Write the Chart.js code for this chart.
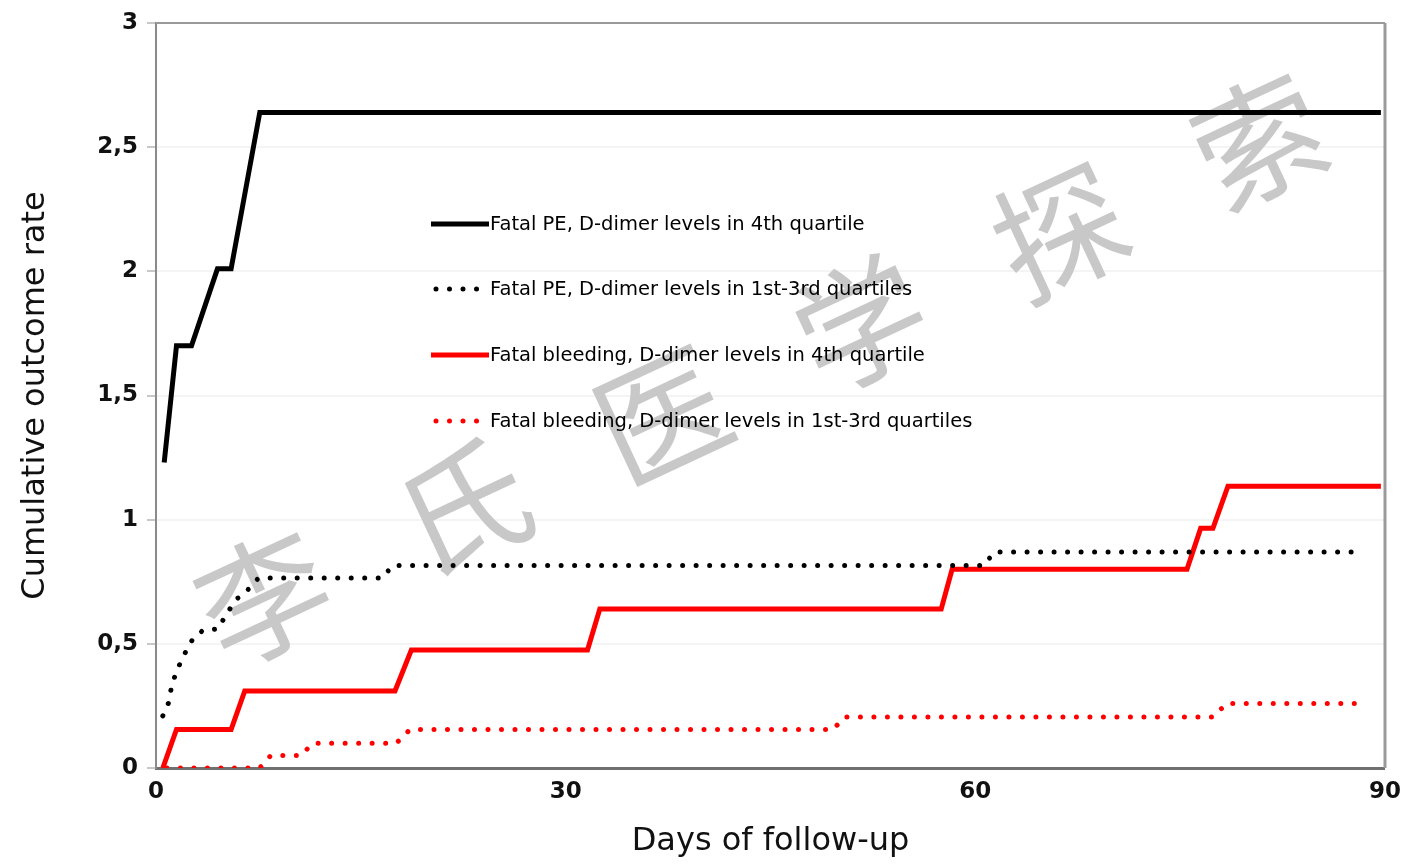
<!DOCTYPE html>
<html>
<head>
<meta charset="utf-8">
<title>Cumulative outcome rate</title>
<script src="https://cdn.jsdelivr.net/npm/chart.js@4.4.1/dist/chart.umd.min.js"></script>
<style>
    html, body { margin:0; padding:0; background:#fff; }
    .chart-wrap { width:1411px; height:864px; }
</style>
</head>
<body>
<div class="chart-wrap"><canvas id="cnv-outcome" width="1411" height="864"></canvas></div>
<script>
//--------------------------------------
// Data
//--------------------------------------
var dayTicks = [0, 30, 60, 90];
var rateTicks = [0, 0.5, 1, 1.5, 2, 2.5, 3];

var seriesLabels = [
    'Fatal PE, D-dimer levels in 4th quartile',
    'Fatal PE, D-dimer levels in 1st-3rd quartiles',
    'Fatal bleeding, D-dimer levels in 4th quartile',
    'Fatal bleeding, D-dimer levels in 1st-3rd quartiles'
];

var pe4Days  = [0.6, 1.5, 2.6, 4.5, 5.5, 7.6, 89.7];
var pe4Rates = [1.23, 1.70, 1.70, 2.01, 2.01, 2.64, 2.64];

var pe13Days  = [0.5, 0.9, 1.15, 1.5, 2.1, 2.7, 3.45, 4.55, 5.15, 5.9, 6.6, 7.5, 16.6, 17.3, 60.6, 61.4, 88.5];
var pe13Rates = [0.21, 0.26, 0.33, 0.39, 0.46, 0.52, 0.555, 0.56, 0.62, 0.68, 0.71, 0.765, 0.765, 0.815, 0.815, 0.87, 0.87];

var bleed4Days  = [0.5, 1.5, 5.5, 6.5, 17.5, 18.7, 31.6, 32.5, 57.5, 58.3, 75.5, 76.5, 77.4, 78.5, 89.7];
var bleed4Rates = [0, 0.155, 0.155, 0.31, 0.31, 0.475, 0.475, 0.64, 0.64, 0.80, 0.80, 0.965, 0.965, 1.135, 1.135];

var bleed13Days  = [0.8, 7.6, 8.4, 10.6, 11.5, 17.6, 18.6, 49.6, 50.4, 77.4, 78.4, 88.5];
var bleed13Rates = [0, 0, 0.05, 0.05, 0.1, 0.1, 0.155, 0.155, 0.205, 0.205, 0.26, 0.26];

var watermarkChars = ['李', '氏', '医', '学', '探', '索'];

(function(win){

    var init = function(){
        setChart();
    };

    //--------------------------------------
    // Helpers
    //--------------------------------------
    var toPoints = function(days, rates){
        return days.map(function(d, i){
            return {x: d, y: rates[i]};
        });
    };

    var solid = function(label, days, rates, color){
        return {
            label: label,
            data: toPoints(days, rates),
            borderColor: color,
            borderWidth: 5,
            borderJoinStyle: 'miter',
            pointRadius: 0,
            tension: 0,
            fill: false
        };
    };

    var dotted = function(label, days, rates, color){
        return {
            label: label,
            data: toPoints(days, rates),
            borderColor: color,
            borderWidth: 5,
            borderDash: [0.001, 13.5],
            borderCapStyle: 'round',
            pointRadius: 0,
            tension: 0,
            fill: false
        };
    };

    //--------------------------------------
    // Plugins
    //--------------------------------------
    var watermarkPlugin = {
        id: 'watermark',
        beforeDatasetsDraw: function(chart){
            var ctx = chart.ctx;
            ctx.save();
            ctx.fillStyle = '#c8c8c8';
            ctx.font = '130px "Noto Sans CJK SC"';
            ctx.textAlign = 'center';
            ctx.textBaseline = 'middle';
            watermarkChars.forEach(function(ch, i){
                ctx.save();
                ctx.translate(264 + i * 199, 598 - i * 91.5);
                ctx.rotate(-25 * Math.PI / 180);
                ctx.fillText(ch, 0, 0);
                ctx.restore();
            });
            ctx.restore();
        }
    };

    var framePlugin = {
        id: 'frame',
        afterDatasetsDraw: function(chart){
            var ctx = chart.ctx;
            var a = chart.chartArea;
            ctx.save();
            ctx.strokeStyle = '#9a9a9a';
            ctx.lineWidth = 2;
            ctx.beginPath();
            ctx.moveTo(a.left, a.top);
            ctx.lineTo(a.right, a.top);
            ctx.stroke();
            ctx.lineWidth = 3;
            ctx.beginPath();
            ctx.moveTo(a.right, a.top);
            ctx.lineTo(a.right, a.bottom);
            ctx.stroke();
            ctx.restore();
        }
    };

    var legendPlugin = {
        id: 'innerLegend',
        afterDatasetsDraw: function(chart){
            var ctx = chart.ctx;
            var rows = [224, 289, 355, 421];
            ctx.save();
            chart.data.datasets.forEach(function(ds, i){
                var y = rows[i];
                ctx.save();
                ctx.strokeStyle = ds.borderColor;
                ctx.lineWidth = ds.borderWidth;
                ctx.lineCap = ds.borderCapStyle || 'butt';
                ctx.setLineDash(ds.borderDash || []);
                ctx.beginPath();
                ctx.moveTo(ds.borderDash ? 436 : 431, y);
                ctx.lineTo(489, y);
                ctx.stroke();
                ctx.restore();

                ctx.fillStyle = '#000';
                ctx.font = '19.5px "DejaVu Sans"';
                ctx.textAlign = 'left';
                ctx.textBaseline = 'middle';
                ctx.fillText(ds.label, 490, y + 1);
            });
            ctx.restore();
        }
    };

    //--------------------------------------
    // Chart
    //--------------------------------------
    var setChart = function(){
        var cnv = document.getElementById('cnv-outcome');
        var tickFont = {family: '"DejaVu Sans"', size: 23, weight: 'bold'};
        var titleFont = {family: '"DejaVu Sans"', size: 32, lineHeight: 1.2};

        new Chart(cnv, {
            type: 'line',
            data: {
                datasets: [
                    solid(seriesLabels[0], pe4Days, pe4Rates, '#000000'),
                    dotted(seriesLabels[1], pe13Days, pe13Rates, '#000000'),
                    solid(seriesLabels[2], bleed4Days, bleed4Rates, '#ff0000'),
                    dotted(seriesLabels[3], bleed13Days, bleed13Rates, '#ff0000')
                ]
            },
            options: {
                responsive: false,
                animation: false,
                devicePixelRatio: 1,
                layout: {padding: {top: 23, right: 22, left: 0, bottom: 0}},
                plugins: {
                    legend: {display: false},
                    tooltip: {enabled: false}
                },
                scales: {
                    x: {
                        type: 'linear',
                        min: 0,
                        max: 90,
                        afterBuildTicks: function(scale){
                            scale.ticks = dayTicks.map(function(v){ return {value: v}; });
                        },
                        afterFit: function(scale){
                            scale.height = 96;
                        },
                        grid: {display: true, drawOnChartArea: false, drawTicks: false},
                        border: {display: true, color: '#707070', width: 3},
                        ticks: {
                            font: tickFont,
                            color: '#111',
                            padding: 10,
                            maxRotation: 0
                        },
                        title: {
                            display: true,
                            text: 'Days of follow-up',
                            font: titleFont,
                            color: '#111',
                            padding: {top: 0, bottom: 3}
                        }
                    },
                    y: {
                        min: 0,
                        max: 3,
                        afterBuildTicks: function(scale){
                            scale.ticks = rateTicks.map(function(v){ return {value: v}; });
                        },
                        afterFit: function(scale){
                            scale.width = 156;
                        },
                        grid: {
                            color: 'rgba(0,0,0,0.045)',
                            tickColor: '#c8c8c8',
                            tickLength: 9,
                            lineWidth: 2
                        },
                        border: {display: true, color: '#8a8a8a', width: 2},
                        ticks: {
                            font: tickFont,
                            color: '#111',
                            padding: 9,
                            callback: function(v){
                                return String(v).replace('.', ',');
                            }
                        },
                        title: {
                            display: true,
                            text: 'Cumulative outcome rate',
                            font: titleFont,
                            color: '#111',
                            padding: {top: 16, bottom: 0}
                        }
                    }
                }
            },
            plugins: [watermarkPlugin, framePlugin, legendPlugin]
        });
    };

    init();

})(window);
</script>
</body>
</html>
